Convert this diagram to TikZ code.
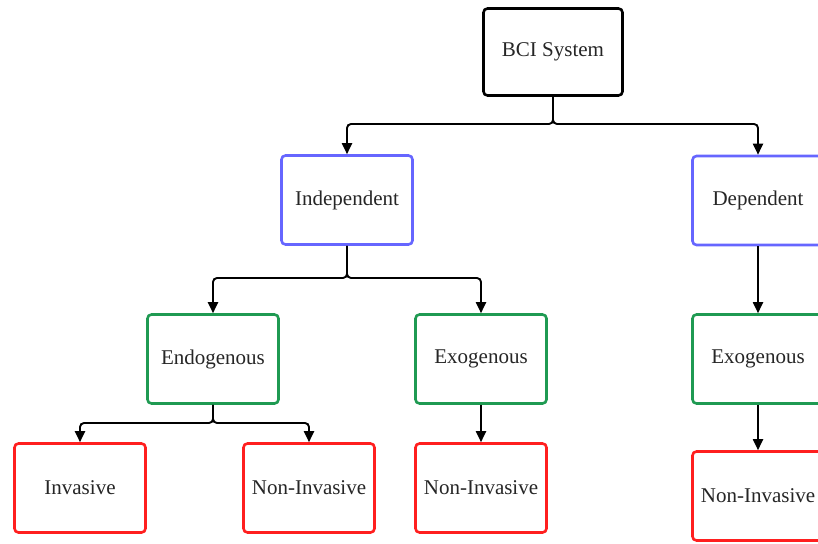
\documentclass[tikz,border=0pt]{standalone}
\usepackage{fontspec}
\setmainfont{Liberation Serif}
\usetikzlibrary{arrows.meta}
\definecolor{indblue}{HTML}{6666FF}
\definecolor{typegreen}{HTML}{1F9A52}
\definecolor{modered}{HTML}{FF1F1F}
\definecolor{labelgray}{HTML}{262626}
\begin{document}
\begin{tikzpicture}[x=1pt,y=-1pt,
  box/.style={draw, line width=2.6pt, rounded corners=4pt,
    minimum width=131pt, minimum height=89pt, inner sep=0pt,
    font=\fontsize{21}{25}\selectfont, text=labelgray, fill=white},
  rootbox/.style={box, draw=black, minimum width=139pt, minimum height=87pt},
  depbox/.style={box, draw=indblue},
  srcbox/.style={box, draw=typegreen},
  modebox/.style={box, draw=modered},
  conn/.style={draw=black, line width=1.9pt, rounded corners=4pt,
    -{Triangle[length=11pt,width=10pt]}}]
\useasboundingbox (0,0) rectangle (818,543);
\clip (0,0) rectangle (818,543);
\fill[white] (0,0) rectangle (818,543);

% boxes
\node[rootbox] (bci) at (553,52) {BCI System};
\node[depbox] (ind) at (347,200) {Independent};
\node[depbox] (dep) at (758,200.5) {Dependent};
\node[srcbox] (endo) at (213,359) {Endogenous};
\node[srcbox] (exoa) at (481,359) {Exogenous};
\node[srcbox] (exob) at (758,359) {Exogenous};
\node[modebox] (inv) at (80,488) {Invasive};
\node[modebox] (nia) at (309,488) {Non-Invasive};
\node[modebox] (nib) at (481,488) {Non-Invasive};
\node[modebox] (nic) at (758,496) {Non-Invasive};

% branching points
\coordinate (hubroot) at (553,124);
\coordinate (hubind) at (347,278);
\coordinate (hubendo) at (213,423);

% connectors
\draw[conn] (bci.south) -- (hubroot) -| (ind.north);
\draw[conn] (bci.south) -- (hubroot) -| (dep.north);
\draw[conn] (ind.south) -- (hubind) -| (endo.north);
\draw[conn] (ind.south) -- (hubind) -| (exoa.north);
\draw[conn] (dep.south) -- (exob.north);
\draw[conn] (endo.south) -- (hubendo) -| (inv.north);
\draw[conn] (endo.south) -- (hubendo) -| (nia.north);
\draw[conn] (exoa.south) -- (nib.north);
\draw[conn] (exob.south) -- (nic.north);
\end{tikzpicture}
\end{document}
